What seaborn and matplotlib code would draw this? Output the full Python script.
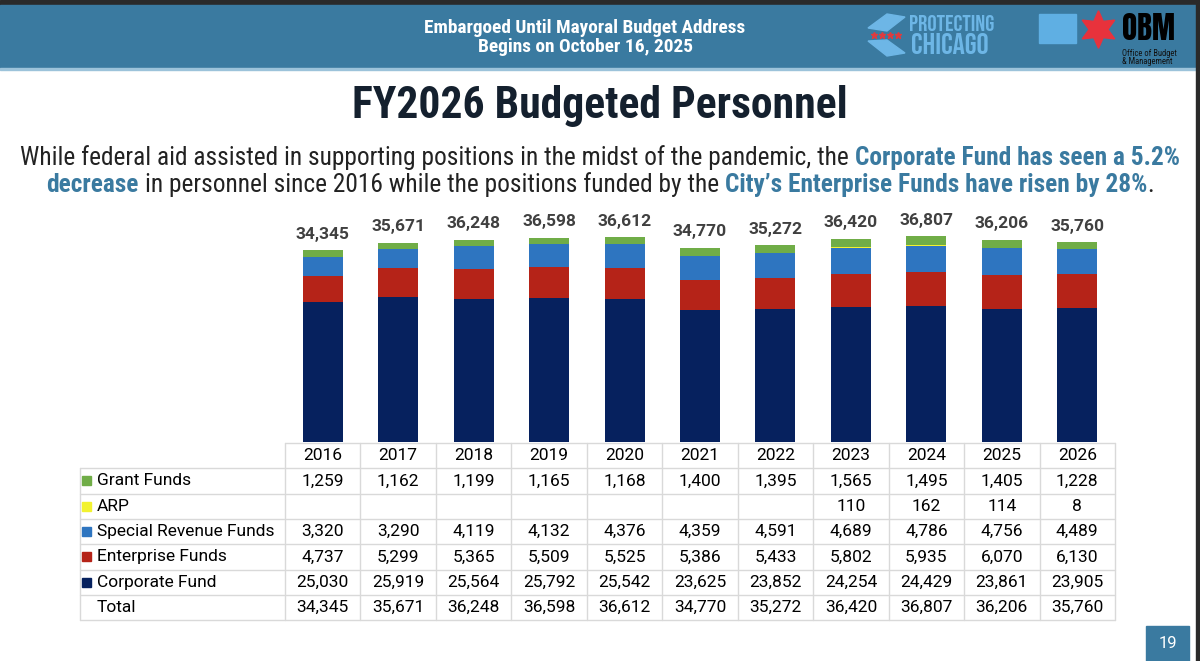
import matplotlib
matplotlib.use("Agg")
import matplotlib.pyplot as plt
import seaborn as sns
import pandas as pd

# data
years = ["2016", "2017", "2018", "2019", "2020", "2021", "2022", "2023", "2024", "2025", "2026"]
grant_funds = [1259, 1162, 1199, 1165, 1168, 1400, 1395, 1565, 1495, 1405, 1228]
arp = [None, None, None, None, None, None, None, 110, 162, 114, 8]
special_revenue = [3320, 3290, 4119, 4132, 4376, 4359, 4591, 4689, 4786, 4756, 4489]
enterprise_funds = [4737, 5299, 5365, 5509, 5525, 5386, 5433, 5802, 5935, 6070, 6130]
corporate_fund = [25030, 25919, 25564, 25792, 25542, 23625, 23852, 24254, 24429, 23861, 23905]
totals = [34345, 35671, 36248, 36598, 36612, 34770, 35272, 36420, 36807, 36206, 35760]

row_names = ["Grant Funds", "ARP", "Special Revenue Funds", "Enterprise Funds", "Corporate Fund", "Total"]
colors = {"Grant Funds": "#70AD47", "ARP": "#F2F230", "Special Revenue Funds": "#2E75C0",
          "Enterprise Funds": "#B52318", "Corporate Fund": "#06215E"}

TEAL = "#3A7AA0"
COND = "Roboto Condensed"
W, H = 1200, 661

sns.set_theme(style="white")
plt.rcParams["font.family"] = ["Roboto", "DejaVu Sans"]

fig = plt.figure(figsize=(W / 100, H / 100), dpi=100)
fig.patch.set_facecolor("white")
renderer = fig.canvas.get_renderer()

# full-figure overlay in pixel units for the slide furniture
bg = fig.add_axes([0, 0, 1, 1])
bg.set_xlim(0, W)
bg.set_ylim(H, 0)
bg.axis("off")

def fit(t, width):
    # shrink/grow a text so it spans the width seen on the slide
    w = t.get_window_extent(renderer).width
    t.set_fontsize(t.get_fontsize() * width / w)
    return t

# header band
bg.add_patch(plt.Rectangle((0, 0), W, 5, color="#2a2a2a", zorder=1))
bg.add_patch(plt.Rectangle((0, 5), W, 63, color=TEAL, zorder=1))
bg.add_patch(plt.Rectangle((0, 68), W, 2, color="#9cc3da", zorder=1))
bg.add_patch(plt.Rectangle((1196, 0), 4, H, color="#2a2a2a", zorder=3))
fit(bg.text(585, 28, "Embargoed Until Mayoral Budget Address", color="white", fontsize=12,
            fontweight="bold", ha="center", va="center", family=COND), 322)
fit(bg.text(586, 47, "Begins on October 16, 2025", color="white", fontsize=12,
            fontweight="bold", ha="center", va="center", family=COND), 215)

# protecting chicago logo (rough)
lb = "#6DB6E6"
bg.add_patch(plt.Polygon([[868, 28], [887, 14], [905, 17], [887, 31]], color=lb, zorder=2))
bg.add_patch(plt.Polygon([[868, 41], [887, 56], [905, 53], [887, 40]], color=lb, zorder=2))
for sx in [874, 882, 890, 898]:
    bg.plot(sx, 34.5, marker="*", color="#E03A3E", markersize=5, zorder=3)
fit(bg.text(909, 23, "PROTECTING", color=lb, fontsize=14, va="center", family="Bebas Neue"), 85)
fit(bg.text(911, 43, "CHICAGO", color=lb, fontsize=24, va="center", family="Bebas Neue"), 78)

# OBM logo (rough)
bg.add_patch(plt.Rectangle((1039, 14), 37, 29, color="#5FAFE3", zorder=2))
bg.plot(1098, 29, marker=(6, 1, 0), color="#E8323C", markersize=27, zorder=3)
fit(bg.text(1122, 29, "OBM", color="black", fontsize=20, va="center", family="Anton"), 53)
fit(bg.text(1122, 53, "Office of Budget", color="#111111", fontsize=5, va="center", family=COND), 56)
fit(bg.text(1122, 62, "& Management", color="#111111", fontsize=5, va="center", family=COND), 52)

# title
fit(bg.text(600, 106, "FY2026 Budgeted Personnel", color="#14202E", fontsize=34,
            fontweight="bold", ha="center", va="center", family=COND), 496)

# subtitle with highlighted parts
def rich_line(parts, y, size):
    texts = []
    for s, bold, space in parts:
        t = bg.text(0, y, s, fontsize=size, fontweight="bold" if bold else "normal",
                    color=TEAL if bold else "#222222", va="baseline", ha="left", family=COND)
        texts.append((t, space))
    a = bg.text(0, y, "a a", fontsize=size, family=COND)
    b = bg.text(0, y, "aa", fontsize=size, family=COND)
    sp = a.get_window_extent(renderer).width - b.get_window_extent(renderer).width
    a.remove()
    b.remove()
    widths = [t.get_window_extent(renderer).width for t, _ in texts]
    total = sum(widths) + sp * sum(1 for _, s in texts if s)
    x = (W - total) / 2
    for (t, s), w in zip(texts, widths):
        if s:
            x += sp
        t.set_x(x)
        x += w

sub_size = 18.3
rich_line([("While federal aid assisted in supporting positions in the midst of the pandemic, the", False, False),
           ("Corporate Fund has seen a 5.2%", True, True)], 165, sub_size)
rich_line([("decrease", True, False),
           ("in personnel since 2016 while the positions funded by the", False, True),
           ("City\u2019s Enterprise Funds have risen by 28%", True, True),
           (".", False, False)], 192, sub_size)

# stacked bars: draw cumulative heights, tallest first
df = pd.DataFrame({"year": years,
                   "Corporate Fund": corporate_fund,
                   "Enterprise Funds": enterprise_funds,
                   "Special Revenue Funds": special_revenue,
                   "ARP": [v or 0 for v in arp],
                   "Grant Funds": grant_funds})
stack = ["Corporate Fund", "Enterprise Funds", "Special Revenue Funds", "ARP", "Grant Funds"]
cum = df[stack].cumsum(axis=1)

ax = fig.add_axes([285 / W, 1 - 442 / H, 830 / W, 230 / H])
for name in stack[::-1]:
    sns.barplot(x=df["year"], y=cum[name], color=colors[name], width=0.53,
                saturation=1, ax=ax, linewidth=0)
ax.set_xlim(-0.5, 10.5)
ax.set_ylim(0, 230 * 179)
ax.axis("off")
for i, t in enumerate(totals):
    ax.text(i, t + 1500, f"{t:,}", ha="center", va="bottom", fontsize=12.5,
            fontweight="bold", color="#404040")

# data table
top, rh = 443, 25.3
lab_l, col_l, col_w = 80, 285, 830 / 11
grid = "#D9D9D9"
bg.plot([col_l, col_l + 11 * col_w], [top, top], color=grid, lw=1)
for r in range(1, 8):
    bg.plot([lab_l, col_l + 11 * col_w], [top + r * rh] * 2, color=grid, lw=1)
bg.plot([lab_l, lab_l], [top + rh, top + 7 * rh], color=grid, lw=1)
for c in range(12):
    bg.plot([col_l + c * col_w] * 2, [top, top + 7 * rh], color=grid, lw=1)

for c, y in enumerate(years):
    bg.text(col_l + (c + 0.5) * col_w, top + 0.5 * rh, y, ha="center", va="center",
            fontsize=12.5, color="black")
values = [grant_funds, arp, special_revenue, enterprise_funds, corporate_fund, totals]
for r, (name, vals) in enumerate(zip(row_names, values)):
    yc = top + (r + 1.5) * rh
    if name in colors:
        bg.add_patch(plt.Rectangle((82, yc - 4.5), 9, 9, color=colors[name], zorder=3))
    bg.text(97, yc, name, ha="left", va="center", fontsize=12.5, color="black")
    for c, v in enumerate(vals):
        if v is not None:
            bg.text(col_l + (c + 0.5) * col_w, yc, f"{v:,}", ha="center", va="center",
                    fontsize=12.5, color="black")

# page number
bg.add_patch(plt.Rectangle((1146, 626), 43, 35, color=TEAL, zorder=2))
bg.text(1167.5, 643, "19", color="white", fontsize=12, ha="center", va="center", zorder=3)

fig.savefig("out.png", dpi=100)
